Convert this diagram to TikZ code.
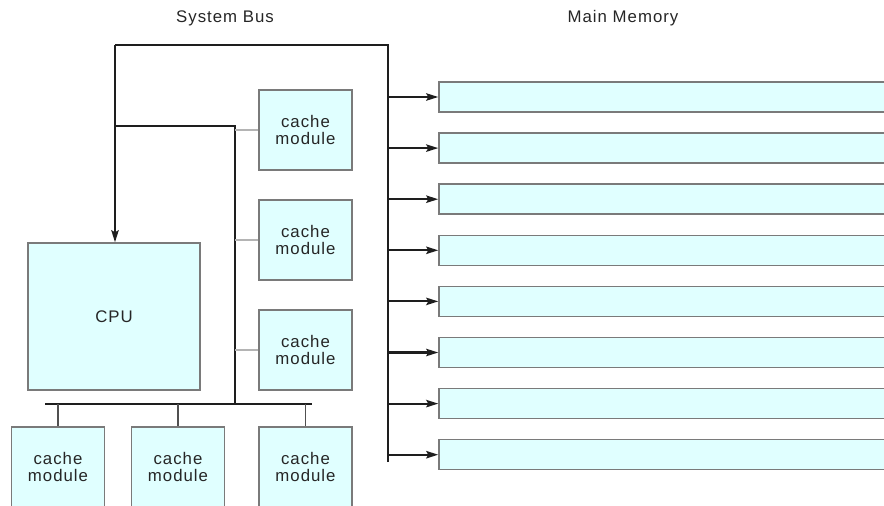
\documentclass[tikz,border=0pt]{standalone}
\usepackage{fontspec}
\newfontfamily\diagfont{Liberation Sans}[LetterSpace=6]
\usetikzlibrary{arrows.meta,positioning,calc}
\definecolor{modfill}{HTML}{E0FFFF}
\definecolor{modedge}{HTML}{7A7A7A}
\definecolor{busink}{HTML}{1E1E1E}
\definecolor{tapgray}{HTML}{B4B4B4}
\definecolor{dropgray}{HTML}{505050}
\tikzset{
  cmp/.style={font=\diagfont\fontsize{12.6}{12.8}\selectfont,
    text=black!85, >={Stealth[length=9pt,width=5.5pt,inset=1.5pt]}},
  heading/.style={inner sep=0pt,align=center},
  module/.style={draw=modedge,fill=modfill,line width=1.1pt,
    minimum width=69.75pt,minimum height=60pt,inner sep=0pt,align=center},
  cpubox/.style={module,minimum width=129pt,minimum height=110.25pt},
  memrow/.style={draw=modedge,fill=modfill,line width=1.1pt,
    minimum width=345.75pt,minimum height=22.5pt,inner sep=0pt},
  bus/.style={draw=busink,line width=1.8pt},
  flow/.style={->,draw=busink,line width=1.6pt},
  tap/.style={draw=tapgray,line width=1.6pt},
  drop/.style={draw=dropgray,line width=1.2pt},
}
\begin{document}
\begin{tikzpicture}[cmp,x=0.75pt,y=-0.75pt]
  % Page is the 884 x 506 frame; boxes run off its right and bottom edges.
  \clip (0,0) rectangle (884,506);

  % ---------------- headings ----------------
  \node[heading] (sysbus) at (225,18) {System Bus};
  \node[heading] (mainmem) at (623,18) {Main Memory};

  % ---------------- processor and cache modules ----------------
  \node[cpubox] (cpu) at (114,316.5) {CPU};
  \node[module] (c1) at (305.5,130) {cache\\module};
  \node[module] (c2) at (305.5,240) {cache\\module};
  \node[module] (c3) at (305.5,350) {cache\\module};
  \node[module] (c4) at (58,467) {cache\\module};
  \node[module] (c5) at (178,467) {cache\\module};
  \node[module] (c6) at (305.5,467) {cache\\module};

  % ---------------- main memory rows ----------------
  \foreach \i in {0,...,7}
    \node[memrow] (m\i) at (669.5,97+51.1*\i) {};

  % ---------------- bus wiring ----------------
  \coordinate (topL) at (115,45);
  \coordinate (topR) at (388,45);
  \coordinate (busend) at (388,462);
  \coordinate (tapL) at (115,126);
  \coordinate (cbot) at (235,404);
  \coordinate (barL) at (45,404);
  \coordinate (barR) at (312,404);

  \draw[bus] (busend) -- (topR) -- (topL);
  \draw[flow] (topL) -- (cpu.north -| topL);
  \draw[bus] (tapL) -| (cbot);
  \draw[bus] (barL) -- (barR);

  % Right-hand modules hang off the inner bus; the bottom row off the bar.
  \foreach \c in {c1,c2,c3}
    \draw[tap] (\c.west -| cbot) -- (\c.west);
  \foreach \c in {c4,c5,c6}
    \draw[drop] (\c.north |- barL) -- (\c.north);

  % One arrow per memory row.
  \foreach \i in {0,...,7}
    \draw[flow] (m\i.west -| busend) -- (m\i.west);
\end{tikzpicture}
\end{document}
